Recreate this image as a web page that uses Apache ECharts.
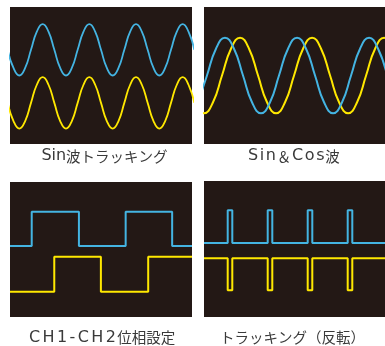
<!DOCTYPE html>
<html>
<head>
<meta charset="utf-8">
<script src="https://cdn.jsdelivr.net/npm/echarts@6/dist/echarts.min.js"></script>
<style>
  body { margin: 0; background: #fff; }
  #main { width: 385px; height: 346px; }
</style>
</head>
<body>
<div id="main"></div>
<script>
// パネル名
const captions = ['Sin波トラッキング', 'Sin＆Cos波', 'CH1-CH2位相設定', 'トラッキング（反転）']

// Sin波トラッキング (1周期 = 8)
const sinTrackTime = [-0.4, 0.6, 1.6, 2.6, 3.6, 4.6, 5.6, 6.6, 7.6, 8.6, 9.6, 10.6, 11.6, 12.6, 13.6, 14.6, 15.6,
  16.6, 17.6, 18.6, 19.6, 20.6, 21.6, 22.6, 23.6, 24.6, 25.6, 26.6, 27.6, 28.6, 29.6, 30.6, 31.6]
const sinTrackCh1 = [1.5, 0.44, 0, 0.44, 1.5, 2.56, 3, 2.56, 1.5, 0.44, 0, 0.44, 1.5, 2.56, 3, 2.56,
  1.5, 0.44, 0, 0.44, 1.5, 2.56, 3, 2.56, 1.5, 0.44, 0, 0.44, 1.5, 2.56, 3, 2.56, 1.5]
const sinTrackCh2 = [-1.6, -2.66, -3.1, -2.66, -1.6, -0.54, -0.1, -0.54, -1.6, -2.66, -3.1, -2.66, -1.6, -0.54, -0.1, -0.54,
  -1.6, -2.66, -3.1, -2.66, -1.6, -0.54, -0.1, -0.54, -1.6, -2.66, -3.1, -2.66, -1.6, -0.54, -0.1, -0.54, -1.6]

// Sin＆Cos波
const sinCosTime1 = [-0.67, 0.33, 1.33, 2.33, 3.33, 4.33, 5.33, 6.33, 7.33, 8.33, 9.33, 10.33,
  11.33, 12.33, 13.33, 14.33, 15.33, 16.33, 17.33, 18.33, 19.33, 20.33]
const sinCosCh1 = [-1.56, 0, 1.56, 2.2, 1.56, 0, -1.56, -2.2, -1.56, 0, 1.56, 2.2,
  1.56, 0, -1.56, -2.2, -1.56, 0, 1.56, 2.2, 1.56, 0]
const sinCosTime2 = [-1, 0, 1, 2, 3, 4, 5, 6, 7, 8, 9, 10, 11, 12, 13, 14, 15, 16, 17, 18, 19, 20, 21]
const sinCosCh2 = [-1.56, -2.2, -1.56, 0, 1.56, 2.2, 1.56, 0, -1.56, -2.2, -1.56, 0,
  1.56, 2.2, 1.56, 0, -1.56, -2.2, -1.56, 0, 1.56, 2.2, 1.56]

// CH1-CH2位相設定 (方形波)
const phaseTime1 = [0, 1.85, 5.87, 9.85, 13.81, 15.5]
const phaseCh1 = [0.21, 2.24, 0.21, 2.24, 0.21, 0.21]
const phaseTime2 = [0, 3.77, 7.74, 11.77, 15.5]
const phaseCh2 = [-2.5, -0.43, -2.5, -0.43, -0.43]

// トラッキング（反転）(パルス)
const pulseTime = [0, 4.74, 5.66, 12.74, 13.66, 20.74, 21.66, 28.74, 29.66, 36.2]
const pulseCh1 = [0.35, 2.28, 0.35, 2.28, 0.35, 2.28, 0.35, 2.28, 0.35, 0.35]
const pulseCh2 = [-0.55, -2.43, -0.55, -2.43, -0.55, -2.43, -0.55, -2.43, -0.55, -0.55]

const CYAN = '#44b4e2'
const YELLOW = '#ffe800'
const BG = '#231815'

const zip = (xs, ys) => xs.map((x, i) => [x, ys[i]])

const panels = [
  { left: 10, top: 7, width: 182, height: 137, xMax: 31.2 },
  { left: 204, top: 7, width: 181, height: 137, xMax: 20.1 },
  { left: 10, top: 182, width: 182, height: 135, xMax: 15.5 },
  { left: 204, top: 181, width: 181, height: 136, xMax: 36.2 }
]

const wave = (idx, data, color, extra) => Object.assign({
  type: 'line',
  xAxisIndex: idx,
  yAxisIndex: idx,
  data: data,
  symbol: 'none',
  silent: true,
  lineStyle: { color: color, width: 2 }
}, extra)

// キャプション位置と英数字の字間
const labelPos = [[104.5, 156], [293.5, 156], [101.5, 337.5], [292.5, 337]]
const latinGap = [0, 0.8, 1.2, 0]

// 英数字は幅の広いフォントで1文字ずつ
const richText = (t, gap) => Array.from(t).map(c => {
  if (/[\x21-\x7e]/.test(c)) return gap > 0 ? '{s|' + c + '}' : '{a|' + c + '}'
  return '{j|' + c + '}'
}).join('')

const myChart = echarts.init(document.getElementById('main'))
myChart.setOption({
  animation: false,
  grid: panels.map(p => ({
    left: p.left, top: p.top, width: p.width, height: p.height,
    show: true, backgroundColor: BG, borderWidth: 0
  })),
  xAxis: panels.map((p, i) => ({ type: 'value', gridIndex: i, min: 0, max: p.xMax, show: false })),
  yAxis: panels.map((p, i) => ({ type: 'value', gridIndex: i, min: -4, max: 4, show: false })),
  series: [
    wave(0, zip(sinTrackTime, sinTrackCh1), CYAN, { smooth: true, lineStyle: { color: CYAN, width: 1.8 } }),
    wave(0, zip(sinTrackTime, sinTrackCh2), YELLOW, { smooth: true, lineStyle: { color: YELLOW, width: 1.8 } }),
    wave(1, zip(sinCosTime2, sinCosCh2), YELLOW, { smooth: true, lineStyle: { color: YELLOW, width: 2 } }),
    wave(1, zip(sinCosTime1, sinCosCh1), CYAN, { smooth: true, lineStyle: { color: CYAN, width: 2 } }),
    wave(2, zip(phaseTime1, phaseCh1), CYAN, { step: 'end' }),
    wave(2, zip(phaseTime2, phaseCh2), YELLOW, { step: 'end' }),
    wave(3, zip(pulseTime, pulseCh1), CYAN, { step: 'end' }),
    wave(3, zip(pulseTime, pulseCh2), YELLOW, { step: 'end' })
  ],
  graphic: captions.map((t, i) => ({
    type: 'text',
    x: labelPos[i][0],
    y: labelPos[i][1],
    style: {
      text: richText(t, latinGap[i]),
      align: 'center',
      verticalAlign: 'middle',
      fill: '#3a3a3a',
      fontSize: 14.5,
      fontFamily: '"Noto Sans CJK JP", sans-serif',
      rich: {
        j: { fontSize: 14.5, fontFamily: '"Noto Sans CJK JP", sans-serif', fill: '#3a3a3a' },
        a: { fontSize: 16, fontFamily: '"DejaVu Sans", sans-serif', fill: '#3a3a3a' },
        s: { fontSize: 16, fontFamily: '"DejaVu Sans", sans-serif', fill: '#3a3a3a', padding: [0, latinGap[i]] }
      }
    }
  }))
})
</script>
</body>
</html>
